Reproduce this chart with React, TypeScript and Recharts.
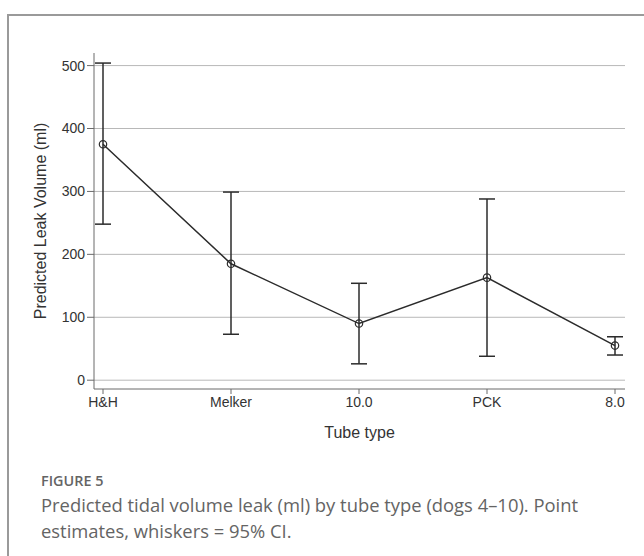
import { LineChart, Line, XAxis, YAxis, CartesianGrid, ErrorBar } from 'recharts'

const tubes = ['H&H', 'Melker', '10.0', 'PCK', '8.0']
const estimate = [375, 185, 90, 163, 55]
const lower95 = [248, 73, 26, 38, 40]
const upper95 = [504, 299, 154, 288, 69]
const yTicks = [0, 100, 200, 300, 400, 500]

const C = {
  ink: '#2b2b2b',
  axis: '#6a6a6a',
  grid: '#b8b8b8',
  tick: '#333',
  frame: '#9a9a9a',
  caption: '#646464',
}

const data = tubes.map((t, i) => ({
  tube: t,
  leak: estimate[i],
  ci: [estimate[i] - lower95[i], upper95[i] - estimate[i]],
}))

const chartFont = '"Liberation Sans", Arial, sans-serif'

export default function App() {
  return (
    <div style={{ position: 'absolute', left: 0, top: 0, width: 644, height: 556, overflow: 'hidden', background: '#fff' }}>
      <div style={{
        position: 'absolute', left: 7, top: 14, width: 700, height: 600,
        borderLeft: `2px solid ${C.frame}`, borderTop: `2px solid ${C.frame}`,
      }} />
      <div style={{ position: 'absolute', left: 0, top: 0 }}>
        <LineChart
          width={644}
          height={449}
          data={data}
          margin={{ top: 53, right: 19, left: 0, bottom: 0 }}
          style={{ fontFamily: chartFont }}
        >
          <CartesianGrid vertical={false} syncWithTicks stroke={C.grid} strokeWidth={1} />
          <XAxis
            dataKey="tube"
            height={60}
            padding={{ left: 9, right: 10 }}
            stroke={C.axis}
            tickSize={5}
            tickMargin={3}
            tick={{ fill: C.tick, fontSize: 14 }}
            label={{ value: 'Tube type', position: 'insideBottom', offset: 11, fill: C.tick, fontSize: 16 }}
          />
          <YAxis
            width={94}
            domain={[-14, 520]}
            ticks={yTicks}
            stroke={C.axis}
            tickSize={7}
            tickMargin={2}
            tick={{ fill: C.tick, fontSize: 14 }}
            label={{
              value: 'Predicted Leak Volume (ml)',
              angle: -90,
              position: 'insideLeft',
              offset: 40,
              fill: C.tick,
              fontSize: 16,
              style: { textAnchor: 'middle' },
            }}
          />
          <Line
            dataKey="leak"
            type="linear"
            stroke={C.ink}
            strokeWidth={1.5}
            dot={{ r: 3.7, stroke: C.ink, strokeWidth: 1.2, fill: 'none' }}
            activeDot={false}
            isAnimationActive={false}
          >
            <ErrorBar dataKey="ci" width={8} stroke={C.ink} strokeWidth={1.5} isAnimationActive={false} />
          </Line>
        </LineChart>
      </div>
      <div style={{
        position: 'absolute', left: 41, top: 471, fontFamily: '"Open Sans", sans-serif',
        fontSize: 14.4, fontWeight: 600, color: C.caption,
      }}>
        FIGURE 5
      </div>
      <div style={{
        position: 'absolute', left: 41, top: 492, width: 600, fontFamily: '"Open Sans", sans-serif',
        fontSize: 18.4, lineHeight: '26px', color: C.caption,
      }}>
        Predicted tidal volume leak (ml) by tube type (dogs 4–10). Point<br />
        estimates, whiskers = 95% CI.
      </div>
    </div>
  )
}
